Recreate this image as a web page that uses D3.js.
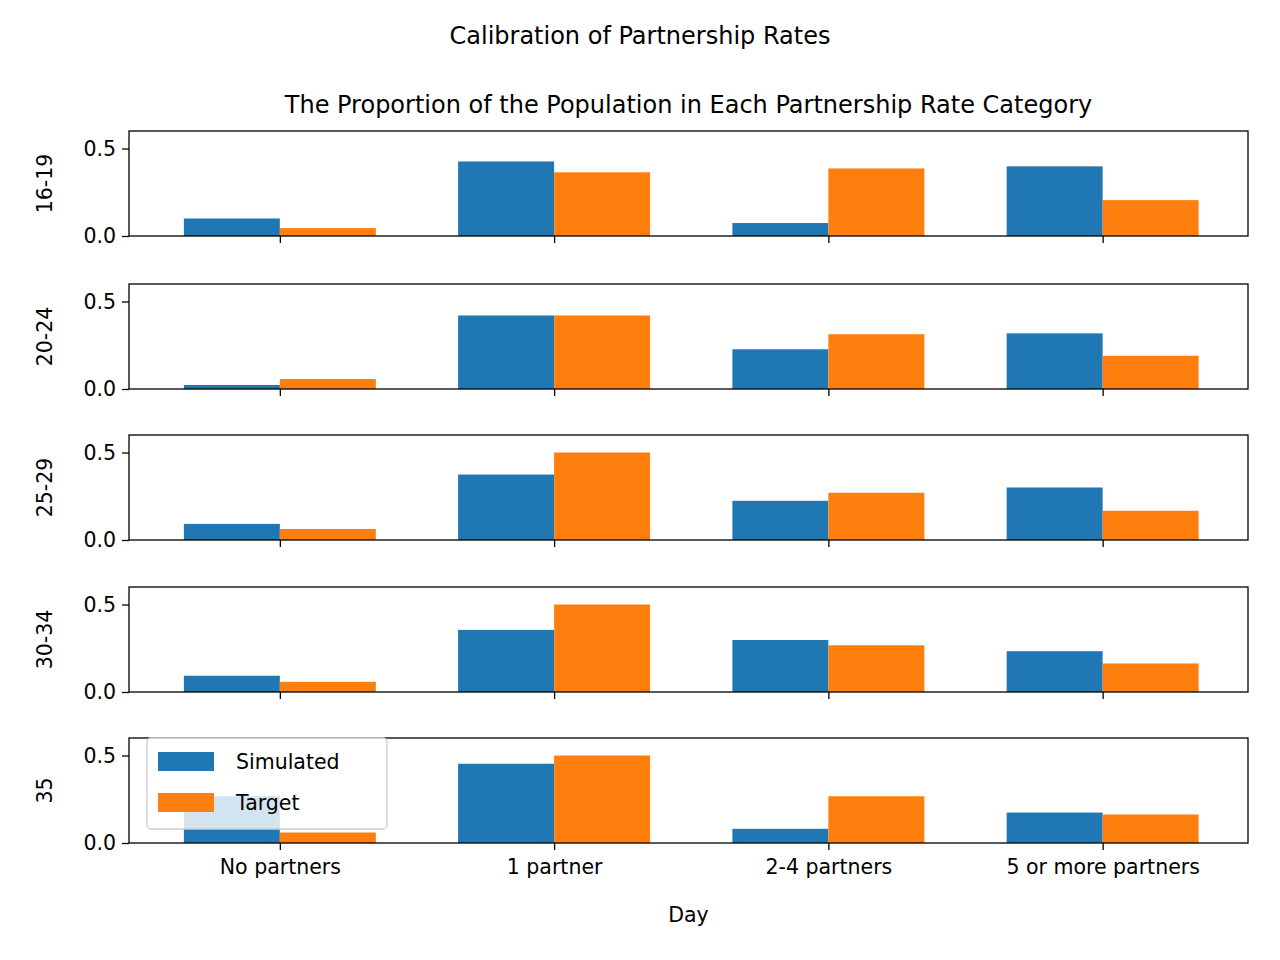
<!DOCTYPE html>
<html><head><meta charset="utf-8">
<script src="https://cdn.jsdelivr.net/npm/d3@7"></script>
<style>body{margin:0;background:#fff}svg{font-family:"DejaVu Sans",sans-serif}</style>
</head><body><svg id="c" width="1280" height="960"></svg>
<script>
const categories = ["No partners", "1 partner", "2-4 partners", "5 or more partners"];
const ageGroups = ["16-19", "20-24", "25-29", "30-34", "35"];
const simulated = [
  [0.10, 0.426, 0.074, 0.398],
  [0.023, 0.42, 0.227, 0.318],
  [0.092, 0.374, 0.224, 0.30],
  [0.093, 0.355, 0.297, 0.233],
  [0.267, 0.453, 0.081, 0.174]
];
const target = [
  [0.045, 0.364, 0.386, 0.205],
  [0.057, 0.42, 0.313, 0.19],
  [0.063, 0.50, 0.27, 0.167],
  [0.058, 0.50, 0.267, 0.163],
  [0.06, 0.50, 0.267, 0.163]
];
const yTicks = [0, 0.5];

const svg = d3.select("#c");
const left = 129, right = 1248, barW = 0.35;
const panelTops = [131, 284, 435, 587, 738], panelH = 105;
const x = d3.scaleLinear().domain([-0.55, 3.53]).range([left, right]);

svg.append("text").attr("x", 640).attr("y", 44).attr("text-anchor", "middle")
  .attr("font-size", 24).text("Calibration of Partnership Rates");
svg.append("text").attr("x", (left + right) / 2).attr("y", 113).attr("text-anchor", "middle")
  .attr("font-size", 24).text("The Proportion of the Population in Each Partnership Rate Category");

ageGroups.forEach((ag, i) => {
  const top = panelTops[i];
  const y = d3.scaleLinear().domain([0, 0.6]).range([top + panelH, top]);
  const g = svg.append("g");
  categories.forEach((c, j) => {
    g.append("rect").attr("x", x(j - barW)).attr("width", x(barW) - x(0))
      .attr("y", y(simulated[i][j])).attr("height", y(0) - y(simulated[i][j])).attr("fill", "#1f77b4");
    g.append("rect").attr("x", x(j)).attr("width", x(barW) - x(0))
      .attr("y", y(target[i][j])).attr("height", y(0) - y(target[i][j])).attr("fill", "#ff7f0e");
  });
  g.append("rect").attr("x", left).attr("y", top).attr("width", right - left).attr("height", panelH)
    .attr("fill", "none").attr("stroke", "#000").attr("stroke-width", 1.3);
  const ya = g.append("g").attr("transform", `translate(${left},0)`)
    .call(d3.axisLeft(y).tickValues(yTicks).tickFormat(d3.format(".1f")).tickSize(7).tickPadding(6));
  const xa = g.append("g").attr("transform", `translate(0,${top + panelH})`)
    .call(d3.axisBottom(x).tickValues([0, 1, 2, 3]).tickSize(7).tickPadding(9)
      .tickFormat(i === 4 ? (d => categories[d]) : () => ""));
  [ya, xa].forEach(a => {
    a.select(".domain").remove();
    a.selectAll("text").attr("font-size", 20.5).attr("fill", "#000").attr("font-family", "DejaVu Sans");
    a.selectAll("line").attr("stroke-width", 1.3);
  });
  g.append("text").attr("transform", `translate(52,${top + panelH / 2}) rotate(-90)`)
    .attr("text-anchor", "middle").attr("font-size", 20.5).text(ag);
});

svg.append("text").attr("x", (left + right) / 2).attr("y", 922).attr("text-anchor", "middle")
  .attr("font-size", 20.5).text("Day");

// legend
const lg = svg.append("g");
lg.append("rect").attr("x", 147).attr("y", 738).attr("width", 240).attr("height", 91).attr("rx", 4)
  .attr("fill", "rgba(255,255,255,0.8)").attr("stroke", "#ccc").attr("stroke-width", 1.3);
[["Simulated", "#1f77b4"], ["Target", "#ff7f0e"]].forEach(([t, col], k) => {
  lg.append("rect").attr("x", 158).attr("y", 752 + k * 41).attr("width", 56).attr("height", 19).attr("fill", col);
  lg.append("text").attr("x", 236).attr("y", 769 + k * 41).attr("font-size", 20.5).text(t);
});
</script></body></html>
